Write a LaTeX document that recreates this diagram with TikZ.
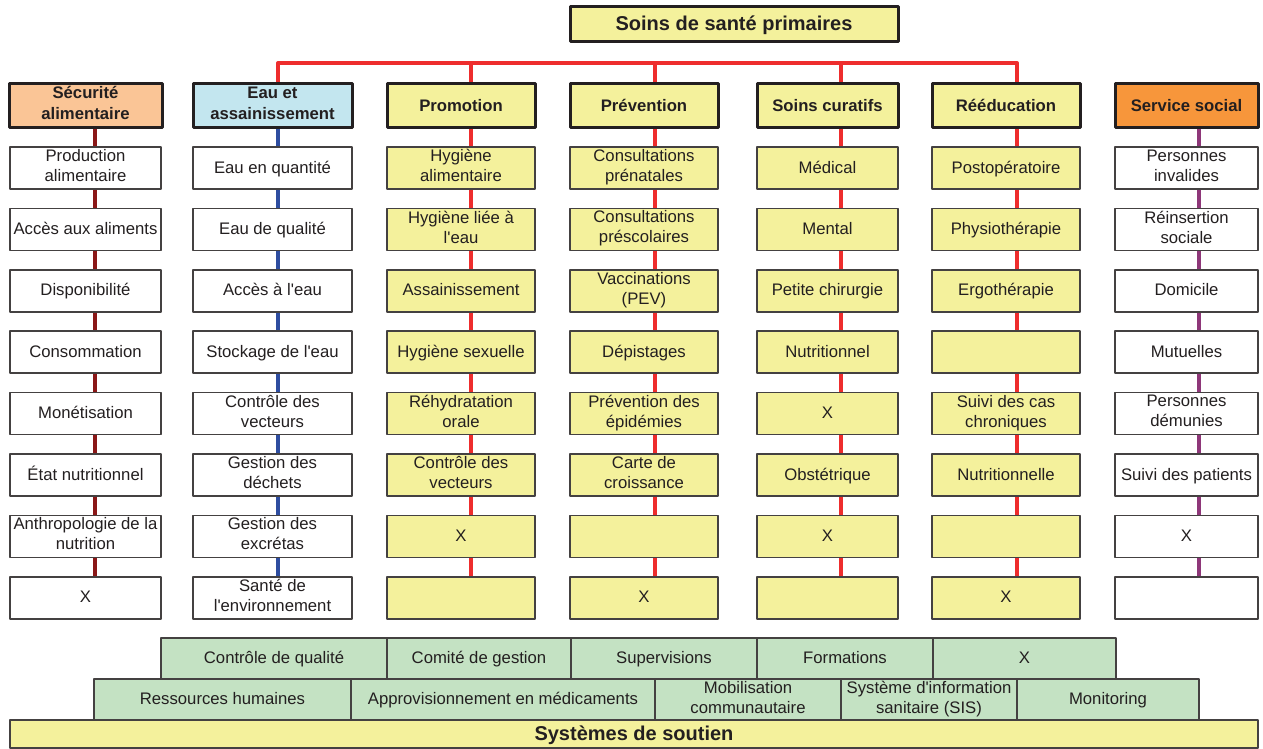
\documentclass[tikz,border=0pt]{standalone}
\usepackage{fontspec}
\setmainfont{Liberation Sans}[Ligatures=TeXOff]
\definecolor{jaune}{HTML}{F4F19C}
\definecolor{peche}{HTML}{FAC596}
\definecolor{bleuclair}{HTML}{C3E6EF}
\definecolor{orange}{HTML}{F7963B}
\definecolor{vert}{HTML}{C4E2C3}
\definecolor{bordeaux}{HTML}{8A1717}
\definecolor{bleu}{HTML}{2E4DA0}
\definecolor{rouge}{HTML}{EE2D2D}
\definecolor{violet}{HTML}{8E3779}
\definecolor{encre}{HTML}{231F20}
\newcommand\etai{\rule[-.25\baselineskip]{0pt}{\baselineskip}}
\tikzset{
  boite/.style={draw=encre!85,line width=1.5,align=center,inner sep=2,text=encre,
    font=\fontsize{16.7}{20}\selectfont,
    execute at begin node=\etai,execute at end node=\etai},
  case/.style={boite,minimum height=42},
  tete/.style={boite,draw=encre,line width=3,minimum height=44,
    font=\fontsize{16.7}{21}\selectfont\bfseries},
  socle/.style={boite,fill=vert,minimum height=41},
  lien/.style={line width=4.5},
  barre/.style={rouge,line width=4}
}
\begin{document}
\begin{tikzpicture}[x=1pt,y=-1pt,line join=round]
\useasboundingbox (0,0) rectangle (1263,749);
\node[tete,fill=jaune,minimum width=328,minimum height=35,font=\fontsize{20}{24}\selectfont\bfseries] (sante) at (734,24.5) {Soins de santé primaires};
% en-tetes des colonnes
\foreach \c/\xc/\w/\xt/\fond/\txt in {1/85.5/153/95/peche/{Sécurité\\alimentaire},2/272.5/159/278/bleuclair/{Eau et\\assainissement},3/461/148/471/jaune/Promotion,4/644/148/655/jaune/Prévention,5/827.5/141/841/jaune/Soins curatifs,6/1006/148/1017/jaune/Rééducation,7/1186.5/143/1199/orange/Service social}{
  \coordinate (x\c) at (\xt,0);
  \node[tete,fill=\fond,minimum width=\w] (c\c-h) at (\xc,106) {\txt};
}
% cases
\foreach \t [count=\j] in {{Production\\alimentaire},Accès aux aliments,Disponibilité,Consommation,Monétisation,État nutritionnel,{Anthropologie de la\\nutrition},X}
  \node[case,fill=white,minimum width=151] (c1-\j) at (85.5,106.6+61.4*\j) {\t};
\foreach \t [count=\j] in {Eau en quantité,Eau de qualité,Accès à l'eau,Stockage de l'eau,{Contrôle des\\vecteurs},{Gestion des\\déchets},{Gestion des\\excrétas},{Santé de\\l'environnement}}
  \node[case,fill=white,minimum width=159] (c2-\j) at (272.5,106.6+61.4*\j) {\t};
\foreach \t [count=\j] in {{Hygiène\\alimentaire},{Hygiène liée à\\l'eau},Assainissement,Hygiène sexuelle,{Réhydratation\\orale},{Contrôle des\\vecteurs},X,{}}
  \node[case,fill=jaune,minimum width=148] (c3-\j) at (461,106.6+61.4*\j) {\t};
\foreach \t [count=\j] in {{Consultations\\prénatales},{Consultations\\préscolaires},{Vaccinations\\(PEV)},Dépistages,{Prévention des\\épidémies},{Carte de\\croissance},{},X}
  \node[case,fill=jaune,minimum width=148] (c4-\j) at (644,106.6+61.4*\j) {\t};
\foreach \t [count=\j] in {Médical,Mental,Petite chirurgie,Nutritionnel,X,Obstétrique,X,{}}
  \node[case,fill=jaune,minimum width=141] (c5-\j) at (827.5,106.6+61.4*\j) {\t};
\foreach \t [count=\j] in {Postopératoire,Physiothérapie,Ergothérapie,{},{Suivi des cas\\chroniques},Nutritionnelle,{},X}
  \node[case,fill=jaune,minimum width=148] (c6-\j) at (1006,106.6+61.4*\j) {\t};
\foreach \t [count=\j] in {{Personnes\\invalides},{Réinsertion\\sociale},Domicile,Mutuelles,{Personnes\\démunies},Suivi des patients,X,{}}
  \node[case,fill=white,minimum width=143] (c7-\j) at (1186.5,106.6+61.4*\j) {\t};
% liens verticaux
\foreach \c/\col in {1/bordeaux,2/bleu,3/rouge,4/rouge,5/rouge,6/rouge,7/violet}{
  \draw[lien,\col] (c\c-h.south -| x\c) -- (c\c-1.north -| x\c);
  \foreach \j [count=\k from 2] in {1,...,7}
    \draw[lien,\col] (c\c-\j.south -| x\c) -- (c\c-\k.north -| x\c);
}
% barre rouge
\coordinate (haut) at (0,63);
\draw[barre] (c2-h.north -| x2) -- (x2 |- haut) -- (x6 |- haut) -- (c6-h.north -| x6);
\foreach \c in {3,4,5}
  \draw[barre] (x\c |- haut) -- (c\c-h.north -| x\c);
% systemes de soutien
\foreach \g/\d/\t [count=\i] in {161/387/Contrôle de qualité,387/571/Comité de gestion,571/757/Supervisions,757/933/Formations,933/1116/X}
  \node[socle,minimum width={\d-\g}] (a\i) at ({(\g+\d)/2},658.5) {\t};
\foreach \g/\d/\t [count=\i] in {94/351/Ressources humaines,351/655/Approvisionnement en médicaments,655/841/{Mobilisation\\communautaire},841/1017/{Système d'information\\sanitaire (SIS)},1017/1199/Monitoring}
  \node[socle,minimum width={\d-\g}] (b\i) at ({(\g+\d)/2},699.5) {\t};
\node[socle,fill=jaune,minimum width=1248,minimum height=28,font=\fontsize{20}{24}\selectfont\bfseries] (soutien) at (634,734) {Systèmes de soutien};
\end{tikzpicture}
\end{document}
